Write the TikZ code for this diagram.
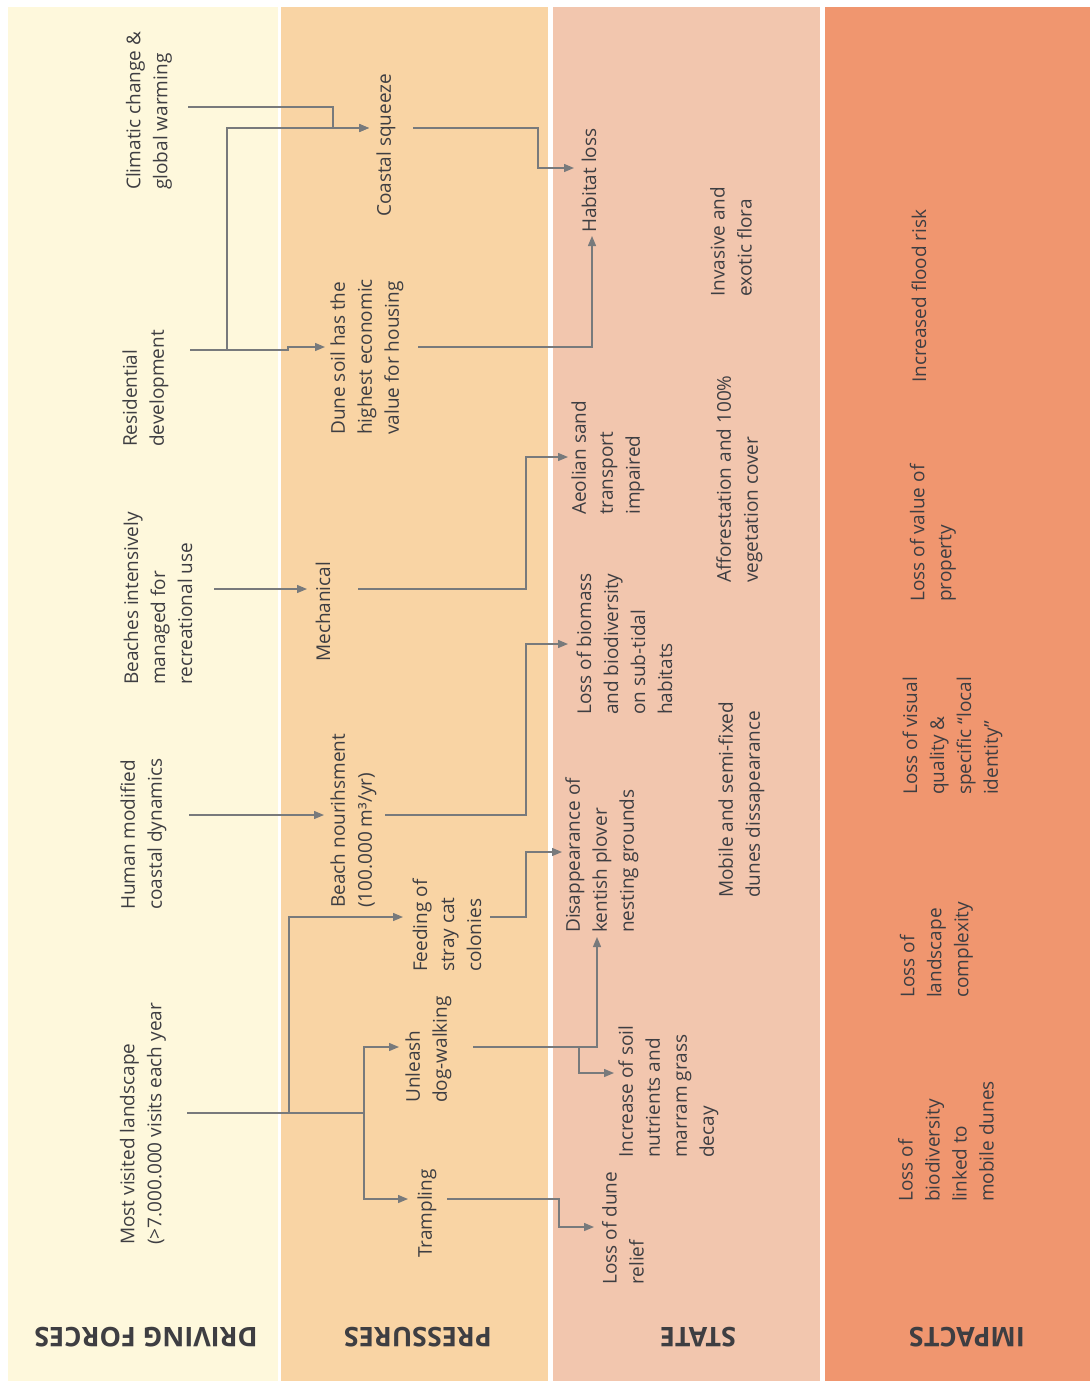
\documentclass[tikz,border=0pt]{standalone}
\usepackage{fontspec}
\setmainfont{Open Sans}
\usetikzlibrary{arrows.meta}
\definecolor{cdf}{RGB}{254,248,220}
\definecolor{cpr}{RGB}{249,212,164}
\definecolor{cst}{RGB}{242,198,174}
\definecolor{cim}{RGB}{240,150,111}
\definecolor{ink}{RGB}{62,62,66}
\definecolor{wire}{RGB}{120,122,124}
\begin{document}
\begin{tikzpicture}[x=1pt,y=-1pt,
  lbl/.style={rotate=90,anchor=west,align=left,inner sep=0pt,text=ink,font=\fontsize{19}{27}\selectfont},
  hdr/.style={rotate=180,anchor=center,inner sep=0pt,text=ink,font=\fontsize{27}{30}\selectfont\bfseries},
  link/.style={draw=wire,line width=1.3pt},
  arr/.style={link,-{Triangle[length=10pt,width=8pt]}}]
\useasboundingbox (0,0) rectangle (1090,1381);
\fill[white] (0,0) rectangle (1090,1381);
% panels
\fill[cdf] (8,7) rectangle (278,1381);
\fill[cpr] (281,7) rectangle (548,1381);
\fill[cst] (553,7) rectangle (820,1381);
\fill[cim] (825,7) rectangle (1090,1381);
% headers
\node[hdr] (hdf) at (146,1337) {DRIVING FORCES};
\node[hdr] (hpr) at (418,1337) {PRESSURES};
\node[hdr] (hst) at (698,1337) {STATE};
\node[hdr] (him) at (967,1337) {IMPACTS};
% driving forces
\node[lbl] (clim) at (149,190) {Climatic change \&\\global warming};
\node[lbl] (res) at (145.5,447) {Residential\\development};
\node[lbl] (beach) at (158,685) {Beaches intensively\\managed for\\recreational use};
\node[lbl] (human) at (143.5,910) {Human modified\\coastal dynamics};
\node[lbl] (most) at (143,1245) {Most visited landscape\\(>7.000.000 visits each year};
% pressures
\node[lbl] (cs) at (386,217) {Coastal squeeze};
\node[lbl] (dune) at (367,435) {Dune soil has the\\highest economic\\value for housing};
\node[lbl] (mech) at (323,662) {Mechanical};
\node[lbl] (nour) at (353.5,908) {Beach nourihsment\\(100.000 m³/yr)};
\node[lbl] (feed) at (447,972) {Feeding of\\stray cat\\colonies};
\node[lbl] (dog) at (428.5,1103) {Unleash\\dog-walking};
\node[lbl] (tramp) at (427,1258) {Trampling};
% state
\node[lbl] (hab) at (589,233) {Habitat loss};
\node[lbl] (inv) at (731,297) {Invasive and\\exotic flora};
\node[lbl] (aeol) at (608,515) {Aeolian sand\\transport\\impaired};
\node[lbl] (affor) at (739.5,583) {Afforestation and 100\%\\vegetation cover};
\node[lbl] (bio) at (624.5,715) {Loss of biomass\\and biodiversity\\on sub-tidal\\habitats};
\node[lbl] (mob) at (741.5,898) {Mobile and semi-fixed\\dunes dissapearance};
\node[lbl] (dis) at (602,933) {Disappearance of\\kentish plover\\nesting grounds};
\node[lbl] (inc) at (668.5,1158) {Increase of soil\\nutrients and\\marram grass\\decay};
\node[lbl] (relief) at (623,1285) {Loss of dune\\relief};
% impacts
\node[lbl] (flood) at (919,383) {Increased flood risk};
\node[lbl] (value) at (933,602) {Loss of value of\\property};
\node[lbl] (visual) at (952.5,795) {Loss of visual\\quality \&\\specific “local\\identity”};
\node[lbl] (land) at (936.5,998) {Loss of\\landscape\\complexity};
\node[lbl] (biod) at (946,1202) {Loss of\\biodiversity\\linked to\\mobile dunes};
% ports
\coordinate (clim-o) at (188,107);
\coordinate (res-o) at (190,350);
\coordinate (beach-o) at (214,589);
\coordinate (human-o) at (189,815);
\coordinate (most-o) at (187,1113);
\coordinate (cs-i) at (369,128);
\coordinate (cs-o) at (413,128);
\coordinate (dune-i) at (325,347);
\coordinate (dune-o) at (418,347);
\coordinate (mech-i) at (307,589);
\coordinate (mech-o) at (358,589);
\coordinate (nour-i) at (324,815);
\coordinate (nour-o) at (385,815);
\coordinate (feed-i) at (403,917);
\coordinate (feed-o) at (490,917);
\coordinate (dog-i) at (399,1047);
\coordinate (dog-o) at (473,1047);
\coordinate (tramp-i) at (408,1199);
\coordinate (tramp-o) at (447,1199);
\coordinate (hab-i) at (574,168);
\coordinate (hab-b) at (592,236);
\coordinate (aeol-i) at (568,457);
\coordinate (bio-i) at (568,644);
\coordinate (dis-i) at (562,852);
\coordinate (dis-b) at (597,937);
\coordinate (inc-i) at (614,1073);
\coordinate (relief-i) at (594,1227);
% connectors
\draw[arr] (clim-o) -- (333,107) -- (333,128) -- (cs-i);
\draw[arr] (res-o) -- (227,350) -- (227,128) -- (cs-i);
\draw[arr] (res-o) -- (288,350) -- (288,347) -- (dune-i);
\draw[arr] (cs-o) -- (538,128) -- (538,168) -- (hab-i);
\draw[arr] (dune-o) -- (592,347) -- (hab-b);
\draw[arr] (beach-o) -- (mech-i);
\draw[arr] (mech-o) -- (526,589) -- (526,457) -- (aeol-i);
\draw[arr] (human-o) -- (nour-i);
\draw[arr] (nour-o) -- (526,815) -- (526,644) -- (bio-i);
\draw[arr] (most-o) -- (289,1113) -- (289,917) -- (feed-i);
\draw[arr] (most-o) -- (364,1113) -- (364,1047) -- (dog-i);
\draw[arr] (364,1113) -- (364,1199) -- (tramp-i);
\draw[arr] (feed-o) -- (526,917) -- (526,852) -- (dis-i);
\draw[arr] (dog-o) -- (597,1047) -- (dis-b);
\draw[arr] (579,1047) -- (579,1073) -- (inc-i);
\draw[arr] (tramp-o) -- (559,1199) -- (559,1227) -- (relief-i);
\end{tikzpicture}
\end{document}
